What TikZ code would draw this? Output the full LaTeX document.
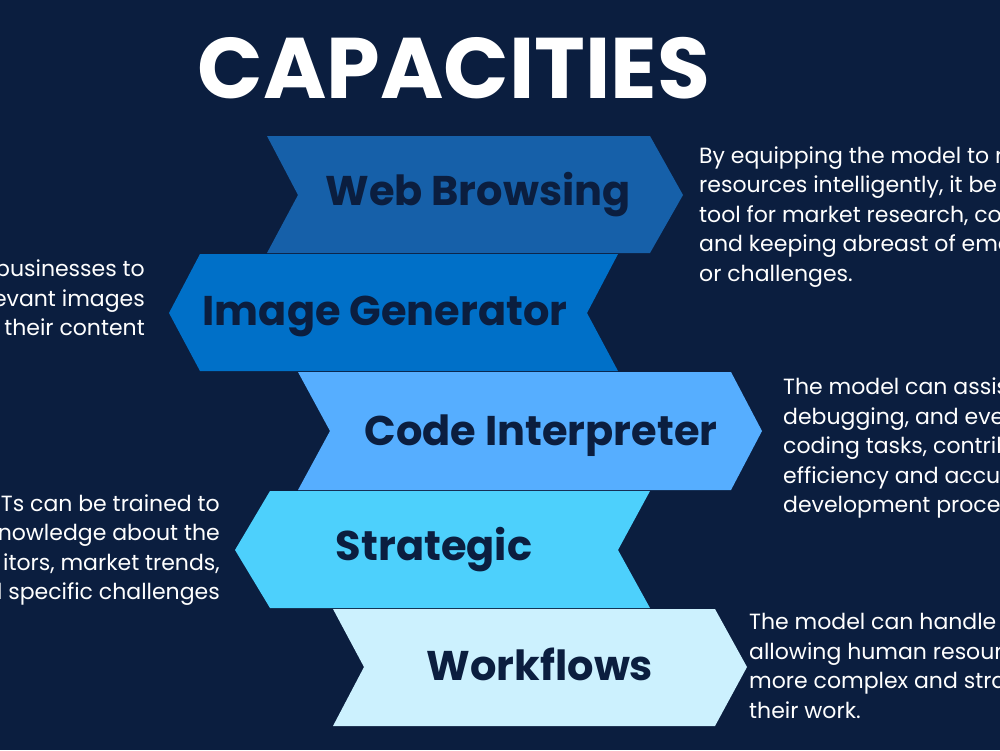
\documentclass[tikz,border=0pt]{standalone}
\usepackage{fontspec}
\setmainfont{Poppins}
\usepackage{tikz}
\definecolor{navy}{HTML}{0B1E3F}
\definecolor{bandA}{HTML}{1660A9}
\definecolor{bandB}{HTML}{0070C8}
\definecolor{bandC}{HTML}{56AEFF}
\definecolor{bandD}{HTML}{4DD0FC}
\definecolor{bandE}{HTML}{CCF1FE}
\tikzstyle{bandlabel}=[text=navy,inner sep=0pt,anchor=base,font=\fontsize{41.5}{41.5}\selectfont\bfseries]
\tikzstyle{blurb}=[text=white,inner sep=0pt,font=\fontsize{22}{29.5}\selectfont]
\tikzstyle{heading}=[text=white,inner sep=0pt,font=\fontsize{86}{86}\selectfont\bfseries]

\begin{document}
\begin{tikzpicture}[x=1pt,y=-1pt]
\clip (0,0) rectangle (1000,750);
\fill[navy] (0,0) rectangle (1000,750);
\node[heading] (title) at (454,68) {CAPACITIES};

% the five chevrons
\fill[bandA] (267,136) -- (650,136) -- (683,195) -- (650,253) -- (267,253) -- (298,195) -- cycle;
\fill[bandB] (200,254) -- (618,254) -- (587,313) -- (618,371) -- (200,371) -- (169,313) -- cycle;
\fill[bandC] (298,372) -- (731,372) -- (762,431) -- (731,490) -- (298,490) -- (330,431) -- cycle;
\fill[bandD] (270,491) -- (650,491) -- (618,550) -- (650,608) -- (270,608) -- (235,550) -- cycle;
\fill[bandE] (333,609) -- (715,609) -- (747,667) -- (715,726) -- (333,726) -- (364,667) -- cycle;

\node[bandlabel] (web) at (478,205) {Web Browsing};
\node[bandlabel] (image) at (385,325) {Image Generator};
\node[bandlabel] (code) at (541,445) {Code Interpreter};
\node[bandlabel] (strategic) at (434,560) {Strategic};
\node[bandlabel] (workflows) at (540,680) {Workflows};

% side texts
\node[blurb,anchor=west,align=left] (webtxt) at (699,217)
  {By equipping the model to r\\resources intelligently, it be\\tool for market research, co\\and keeping abreast of eme\\or challenges.};
\node[blurb,anchor=east,align=right] (imagetxt) at (145,298)
  {businesses to\\evant images\\their content};
\node[blurb,anchor=west,align=left] (codetxt) at (783,448)
  {The model can assis\\debugging, and ever\\coding tasks, contrib\\efficiency and accur\\development proce};
\node[blurb,anchor=east,align=right] (strategictxt) at (220,550)
  {Ts can be trained to\\nowledge about the\\itors, market trends,\\d specific challenges};
\node[blurb,anchor=west,align=left] (workflowstxt) at (749,666)
  {The model can handle r\\allowing human resourc\\more complex and stra\\their work.};
\end{tikzpicture}
\end{document}
